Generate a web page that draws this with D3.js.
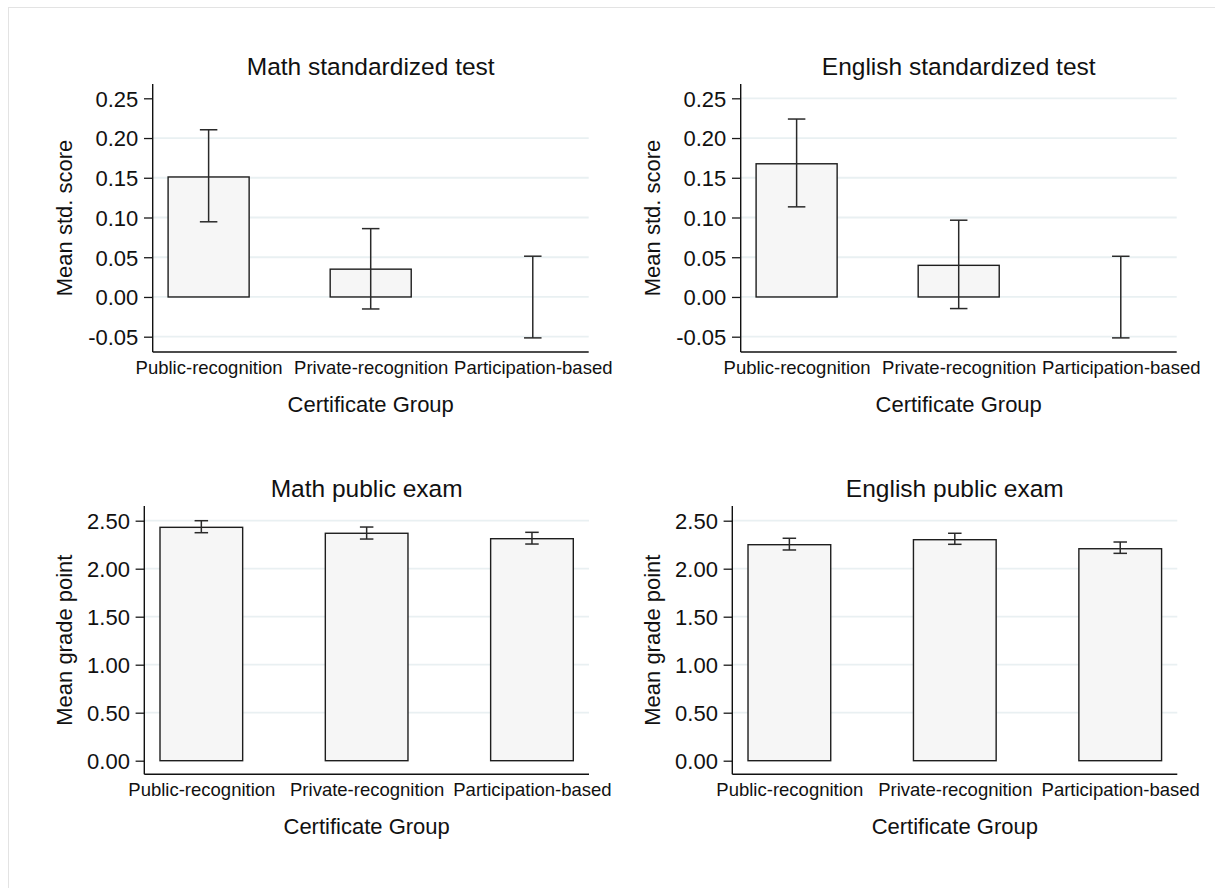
<!DOCTYPE html>
<html>
<head>
<meta charset="utf-8">
<script src="https://cdn.jsdelivr.net/npm/d3@7"></script>
<style>
  html, body { margin: 0; padding: 0; background: #ffffff; }
  svg { display: block; font-family: "Liberation Sans", Arial, sans-serif; }
</style>
</head>
<body>
<svg id="chart" width="1215" height="888"></svg>
<script>
// Certificate groups shown on every x axis
const categories = ["Public-recognition", "Private-recognition", "Participation-based"];

// Standardized tests: group means and 95% CI bounds (std. score)
const mathStdMean  = [0.151, 0.035, 0.000];
const mathStdLow   = [0.0946, -0.0151, -0.0515];
const mathStdHigh  = [0.2104, 0.0860, 0.0513];

const engStdMean   = [0.1676, 0.0398, 0.000];
const engStdLow    = [0.1134, -0.0146, -0.0515];
const engStdHigh   = [0.2239, 0.0966, 0.0512];

// Public exams: group means and 95% CI bounds (grade point)
const mathExamMean = [2.431, 2.369, 2.3125];
const mathExamLow  = [2.375, 2.309, 2.257];
const mathExamHigh = [2.500, 2.434, 2.379];

const engExamMean  = [2.250, 2.302, 2.208];
const engExamLow   = [2.195, 2.254, 2.160];
const engExamHigh  = [2.317, 2.369, 2.278];

// Axis ticks
const stdTicks   = [-0.05, 0.00, 0.05, 0.10, 0.15, 0.20, 0.25];
const gradeTicks = [0.00, 0.50, 1.00, 1.50, 2.00, 2.50];

// Gridlines drawn per panel
const mathStdGrid  = [-0.05, 0.00, 0.05, 0.10, 0.15, 0.20];
const engStdGrid   = [-0.05, 0.00, 0.05, 0.10, 0.15, 0.20, 0.25];
const examGrid     = [0.50, 1.00, 1.50, 2.00, 2.50];

const panelTitles = ["Math standardized test", "English standardized test",
                     "Math public exam", "English public exam"];
const xTitle = "Certificate Group";
const stdYTitle = "Mean std. score";
const gradeYTitle = "Mean grade point";

const fmt = d3.formatLocale({decimal: ".", thousands: ",", grouping: [3],
                             currency: ["", ""], minus: "-"}).format(".2f");

const svg = d3.select("#chart");

// light outer frame
svg.append("rect")
  .attr("x", 8.5).attr("y", 7.5)
  .attr("width", 1215).attr("height", 888)
  .attr("fill", "none").attr("stroke", "#e3e3e3").attr("stroke-width", 1);

const panels = [
  {title: panelTitles[0], yTitle: stdYTitle, mean: mathStdMean, low: mathStdLow, high: mathStdHigh,
   ticks: stdTicks, grid: mathStdGrid, domain: [-0.05, 0.25],
   x0: 152.7, x1: 588.7, y0: 84, y1: 352, padTop: 14.3, padBot: 15.3, cap: 17.5, yTitleX: 72},
  {title: panelTitles[1], yTitle: stdYTitle, mean: engStdMean, low: engStdLow, high: engStdHigh,
   ticks: stdTicks, grid: engStdGrid, domain: [-0.05, 0.25],
   x0: 740.7, x1: 1176.7, y0: 84, y1: 352, padTop: 14.3, padBot: 15.3, cap: 17.5, yTitleX: 660},
  {title: panelTitles[2], yTitle: gradeYTitle, mean: mathExamMean, low: mathExamLow, high: mathExamHigh,
   ticks: gradeTicks, grid: examGrid, domain: [0, 2.5],
   x0: 144.3, x1: 589.0, y0: 506, y1: 774.3, padTop: 14.7, padBot: 13.6, cap: 13.5, yTitleX: 72},
  {title: panelTitles[3], yTitle: gradeYTitle, mean: engExamMean, low: engExamLow, high: engExamHigh,
   ticks: gradeTicks, grid: examGrid, domain: [0, 2.5],
   x0: 732.3, x1: 1177.3, y0: 506, y1: 774.3, padTop: 14.7, padBot: 13.6, cap: 13.5, yTitleX: 660}
];

panels.forEach(p => {
  const g = svg.append("g");

  const y = d3.scaleLinear()
    .domain(p.domain)
    .range([p.y1 - p.padBot, p.y0 + p.padTop]);

  const x = d3.scalePoint()
    .domain(categories)
    .range([p.x0, p.x1])
    .padding(0.345);
  const barW = x.step() * 0.5;

  // gridlines
  g.append("g").selectAll("line")
    .data(p.grid)
    .join("line")
      .attr("x1", p.x0).attr("x2", p.x1)
      .attr("y1", d => y(d)).attr("y2", d => y(d))
      .attr("stroke", "#e9f0f2").attr("stroke-width", 1.8);

  // bars
  const rows = categories.map((c, i) => ({c, mean: p.mean[i], low: p.low[i], high: p.high[i]}));
  g.append("g").selectAll("rect")
    .data(rows.filter(d => d.mean !== 0))
    .join("rect")
      .attr("x", d => x(d.c) - barW / 2)
      .attr("width", barW)
      .attr("y", d => y(Math.max(0, d.mean)))
      .attr("height", d => Math.abs(y(d.mean) - y(0)))
      .attr("fill", "#f6f6f6")
      .attr("stroke", "#1e1e1e").attr("stroke-width", 1.4);

  // confidence intervals
  const eb = g.append("g").attr("stroke", "#2a2a2a").attr("stroke-width", 1.5).attr("fill", "none");
  eb.selectAll("line.stem").data(rows).join("line").attr("class", "stem")
    .attr("x1", d => x(d.c)).attr("x2", d => x(d.c))
    .attr("y1", d => y(d.low)).attr("y2", d => y(d.high));
  eb.selectAll("line.capHi").data(rows).join("line").attr("class", "capHi")
    .attr("x1", d => x(d.c) - p.cap / 2).attr("x2", d => x(d.c) + p.cap / 2)
    .attr("y1", d => y(d.high)).attr("y2", d => y(d.high));
  eb.selectAll("line.capLo").data(rows).join("line").attr("class", "capLo")
    .attr("x1", d => x(d.c) - p.cap / 2).attr("x2", d => x(d.c) + p.cap / 2)
    .attr("y1", d => y(d.low)).attr("y2", d => y(d.low));

  // y axis
  const yAxis = g.append("g")
    .attr("transform", `translate(${p.x0},0)`)
    .call(d3.axisLeft(y).tickValues(p.ticks).tickFormat(fmt).tickSize(8.7).tickPadding(5.7));
  yAxis.select(".domain").remove();
  yAxis.selectAll(".tick line").attr("stroke", "#1a1a1a").attr("stroke-width", 1.3);
  yAxis.selectAll(".tick text")
    .attr("fill", "#111").style("font-size", "22px")
    .attr("dy", "0.36em");
  yAxis.attr("font-family", null).attr("font-size", null);

  // x axis with category labels
  const xAxis = g.append("g")
    .attr("transform", `translate(0,${p.y1})`)
    .call(d3.axisBottom(x).tickSize(0));
  xAxis.select(".domain").remove();
  xAxis.selectAll(".tick text")
    .attr("y", 22).attr("dy", null)
    .attr("fill", "#111").style("font-size", "18.5px");
  xAxis.attr("font-family", null).attr("font-size", null);

  // axis lines
  g.append("line")
    .attr("x1", p.x0).attr("x2", p.x0).attr("y1", p.y0).attr("y2", p.y1)
    .attr("stroke", "#111").attr("stroke-width", 1.4);
  g.append("line")
    .attr("x1", p.x0).attr("x2", p.x1).attr("y1", p.y1).attr("y2", p.y1)
    .attr("stroke", "#111").attr("stroke-width", 1.4);

  // titles
  const cx = (p.x0 + p.x1) / 2;
  g.append("text")
    .attr("x", cx).attr("y", p.y0 - 9)
    .attr("text-anchor", "middle").attr("fill", "#111")
    .style("font-size", "24.5px")
    .text(p.title);

  g.append("text")
    .attr("x", cx).attr("y", p.y1 + 59.7)
    .attr("text-anchor", "middle").attr("fill", "#111")
    .style("font-size", "22px")
    .text(xTitle);

  g.append("text")
    .attr("transform", `translate(${p.yTitleX},${(p.y0 + p.y1) / 2}) rotate(-90)`)
    .attr("text-anchor", "middle").attr("fill", "#111")
    .style("font-size", "22px")
    .text(p.yTitle);
});
</script>
</body>
</html>
